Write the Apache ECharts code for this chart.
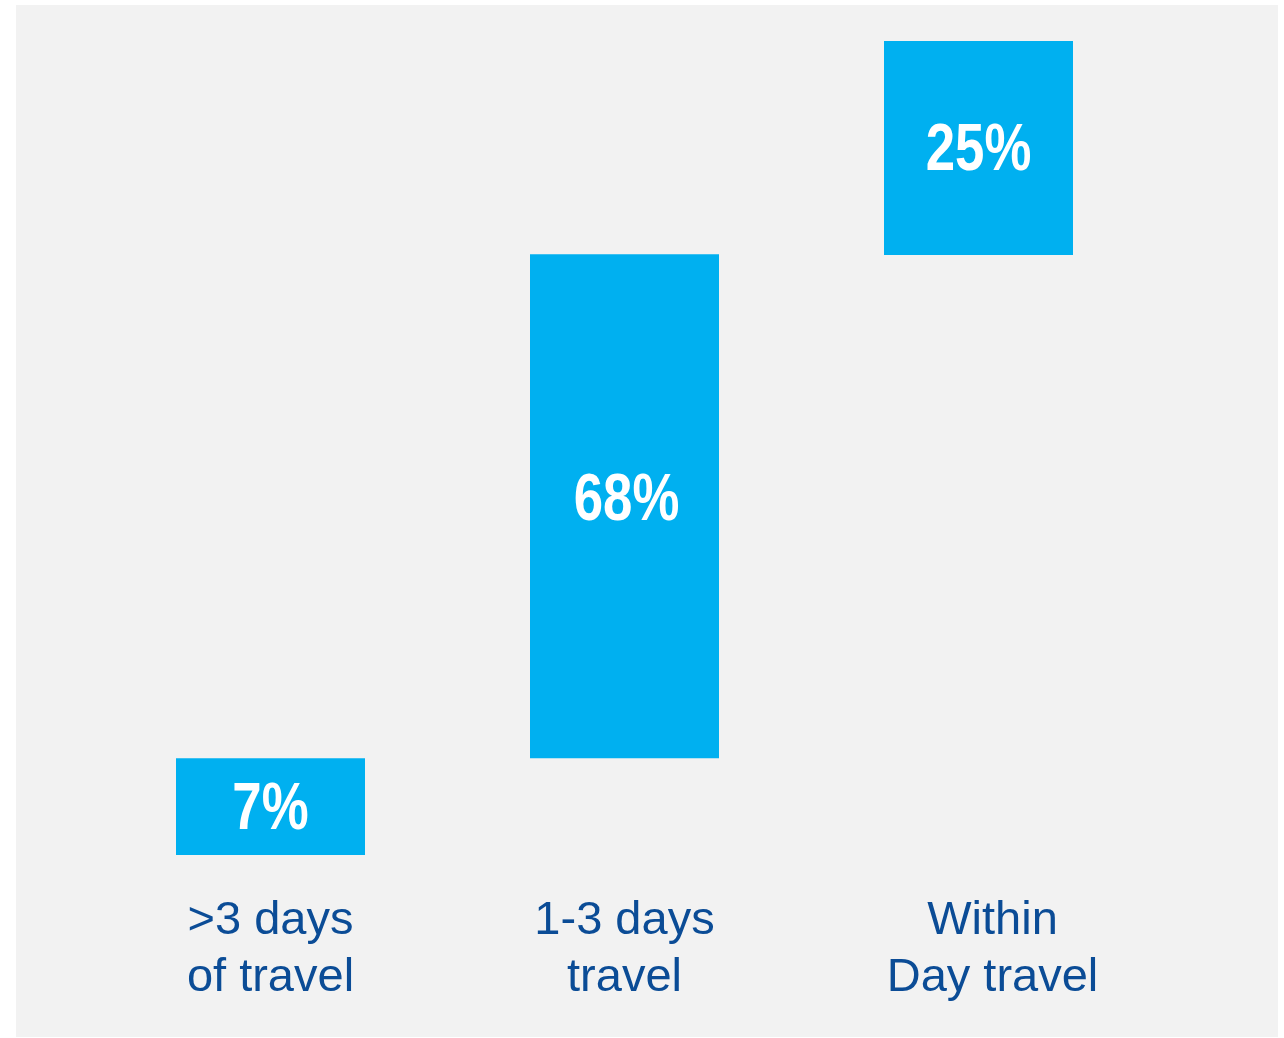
<!DOCTYPE html>
<html>
<head>
<meta charset="utf-8">
<script src="https://cdn.jsdelivr.net/npm/echarts@6/dist/echarts.min.js"></script>
<style>
html,body{margin:0;padding:0;background:#ffffff;}
#chart{width:1284px;height:1038px;}
</style>
</head>
<body>
<div id="chart"></div>
<script>
// Categories (x axis labels)
const categories = ['>3 days\nof travel', '1-3 days\ntravel', 'Within\nDay travel'];
// Share labels shown on the bars (%)
const shareLabels = [7, 68, 25];
// Bar extents as drawn in the picture (scale units, 0..100)
const barStart = [0, 11.9, 73.7];
const barEnd = [11.9, 73.8, 100];

const barLength = barEnd.map((e, i) => e - barStart[i]);
const labelData = categories.map((c, i) => [i, (barStart[i] + barEnd[i]) / 2, shareLabels[i]]);

const chart = echarts.init(document.getElementById('chart'), null, {renderer: 'canvas'});

const axisFont = 'Liberation Sans, Arial, sans-serif';
const textColor = '#0b4c96';

const option = {
  backgroundColor: '#ffffff',
  animation: false,
  graphic: [{
    type: 'rect',
    z: -10,
    silent: true,
    shape: {x: 16, y: 5, width: 1262, height: 1032},
    style: {fill: '#f2f2f2'}
  }],
  grid: {left: 93.5, right: 128.5, top: 41, bottom: 183},
  xAxis: {
    type: 'category',
    data: categories,
    axisLine: {show: false},
    axisTick: {show: false},
    splitLine: {show: false},
    axisLabel: {
      interval: 0,
      margin: 38,
      color: textColor,
      fontFamily: axisFont,
      fontSize: 47,
      lineHeight: 57,
      formatter: function (value, idx) {
        const lines = value.split('\n');
        const key = idx === 2 ? 'o' : 'n';
        return lines.map(l => '{' + key + '|' + l + '}').join('\n');
      },
      rich: {
        n: {color: textColor, fontFamily: axisFont, fontSize: 47, lineHeight: 57},
        o: {color: textColor, fontFamily: axisFont, fontSize: 47, lineHeight: 57, padding: [0, 0, 0, 28]}
      }
    }
  },
  yAxis: {
    type: 'value',
    min: 0,
    max: 100,
    show: false,
    splitLine: {show: false}
  },
  series: [
    {
      type: 'bar',
      stack: 'w',
      barWidth: 189,
      silent: true,
      itemStyle: {color: 'transparent'},
      data: barStart
    },
    {
      type: 'bar',
      stack: 'w',
      barWidth: 189,
      itemStyle: {color: '#00b0f0'},
      data: barLength
    },
    {
      type: 'custom',
      silent: true,
      z: 10,
      data: labelData,
      renderItem: function (params, api) {
        const pt = api.coord([api.value(0), api.value(1)]);
        const idx = params.dataIndex;
        const dy = idx === 1 ? -4 : 4;
        const dx = idx === 1 ? 2 : 0;
        return {
          type: 'text',
          x: pt[0] + dx,
          y: pt[1] + dy,
          scaleX: 0.8,
          style: {
            text: api.value(2) + '%',
            fill: '#ffffff',
            font: 'bold 66px "Liberation Sans", Arial, sans-serif',
            align: 'center',
            verticalAlign: 'middle'
          }
        };
      }
    }
  ]
};
chart.setOption(option);
</script>
</body>
</html>
